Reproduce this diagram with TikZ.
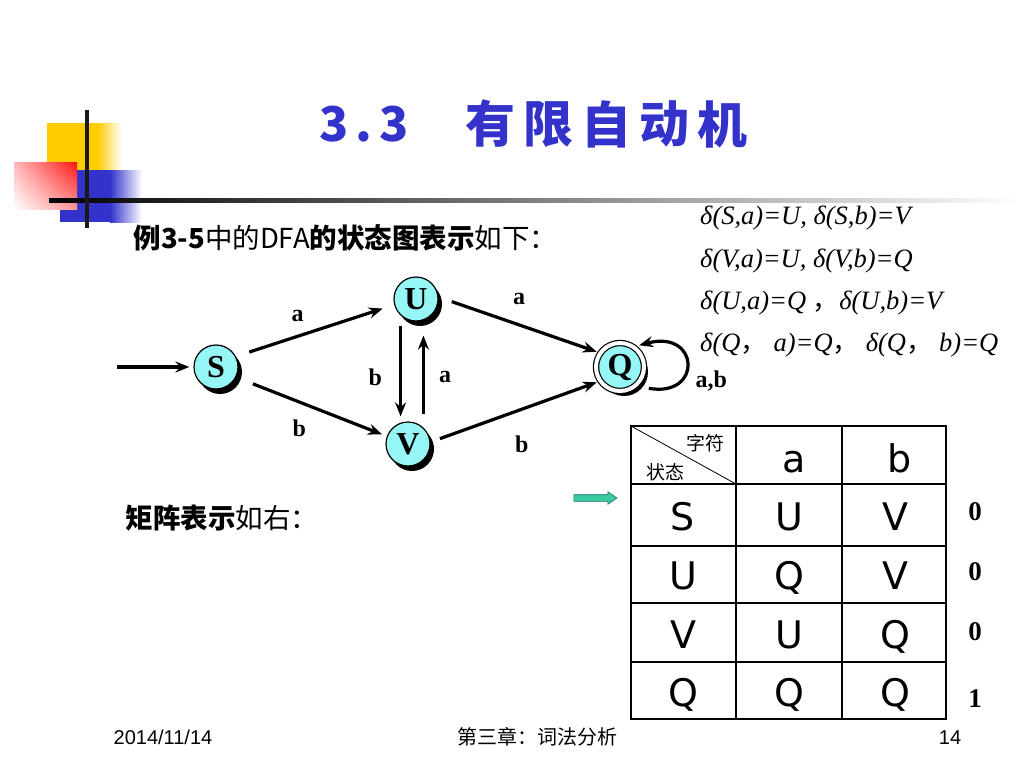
\documentclass[tikz,border=0pt]{standalone}
\usepackage{fontspec}
\setmainfont{Liberation Serif}
\newfontfamily\cjk{Noto Sans CJK SC}
\newfontfamily\tblfont{DejaVu Sans}
\newfontfamily\footfont{Liberation Sans}
\usetikzlibrary{arrows.meta,automata,positioning,shadows,shadings,shapes.arrows}

\definecolor{stcyan}{RGB}{150,245,245}
\definecolor{titleblue}{RGB}{51,51,204}
\definecolor{decoyellow}{RGB}{255,204,0}
\definecolor{decored}{RGB}{255,20,20}
\definecolor{decoblue}{RGB}{51,51,204}
\definecolor{ptrgreen}{RGB}{60,200,160}
\definecolor{ptrdark}{RGB}{20,110,100}
\newcommand{\setfs}[1]{\fontsize{#1}{#1}\selectfont}

\begin{document}
\begin{tikzpicture}[x=1pt,y=1pt,>={Stealth[length=14pt,width=11pt]},
    every state/.style={draw,line width=1.2pt,fill=stcyan,minimum size=44pt,inner sep=0pt,
      font=\bfseries\setfs{32},
      drop shadow={fill=black,opacity=1,shadow xshift=4pt,shadow yshift=-5pt}},
    accepting by double/.append style={double distance=4pt},
    initial text={},initial distance=76pt,
    every initial by arrow/.append style={line width=3.2pt,shorten >=4pt},
    trans/.style={line width=3.2pt},
    lbl/.style={font=\bfseries\setfs{24},inner sep=0pt},
    dlt/.style={anchor=west,inner sep=0pt,font=\itshape\setfs{26.5}},
    cell/.style={anchor=base,font=\tblfont\setfs{38}},
    txt/.style={anchor=west,font=\cjk\setfs{27.5}}]
    \fill[white] (0,0) rectangle (1024,-768);
    \useasboundingbox (0,0) rectangle (1024,-768);

    \fill[decoyellow] (47,-123) rectangle (97,-172);
    \shade[left color=decoyellow,right color=white] (97,-123) rectangle (122,-172);
    \fill[decoblue] (60,-170) rectangle (110,-222);
    \shade[left color=decoblue,right color=white] (110,-170) rectangle (142,-222);
    \shade[upper right=decored,upper left=decored!30,lower right=decored!45,lower left=white]
      (14,-162) rectangle (77,-209);
    \shade[left color=black,right color=white] (49,-198) rectangle (1020,-202.5);
    \fill[black!90] (85,-110) rectangle (89,-228);

    \node[font=\cjk\bfseries\addfontfeature{LetterSpace=15}\setfs{48},text=titleblue] (num) at (364,-124) {3.3};
    \foreach \c [count=\i] in {有,限,自,动,机}
      \node[font=\cjk\bfseries\setfs{50},text=titleblue] (t\i) at (432+58*\i,-124) {\c};

    \node[txt] (ex) at (130,-238) {{\bfseries 例3-5}中的DFA{\bfseries 的状态图表示}如下：};
    \node[txt] (mat) at (122,-518) {{\bfseries 矩阵表示}如右：};

    \node[dlt] (d1) at (700,-218) {δ(S,a)=U, δ(S,b)=V};
    \node[dlt] (d2) at (700,-261) {δ(V,a)=U, δ(V,b)=Q};
    \node[dlt] (d3) at (700,-303) {δ(U,a)=Q {\cjk ，}δ(U,b)=V};
    \node[dlt] (d4) at (700,-345) {δ(Q{\cjk ，} a)=Q{\cjk ，} δ(Q{\cjk ，} b)=Q};

    \node[initial,state] (S) at (216,-367) {S};
    \node[state] (U) [on grid,above right=68pt and 200pt of S] {U};
    \node[state] (V) [on grid,below right=77pt and 192pt of S] {V};
    \node[state,accepting,minimum size=48pt] (Q) [on grid,right=404pt of S] {Q};

    \path[->,trans]
    (S.28) edge[shorten <=14pt,shorten >=12pt] node[lbl,pos=.39,above=13pt] {a} (U.-165)
    (S.-27) edge[shorten <=18pt,shorten >=5pt] node[lbl,pos=.42,below=16pt] {b} (V.160)

    (U.-133) edge[shorten <=10pt,shorten >=5pt] node[lbl,pos=.58,left=17pt] {b} (U.-133 |- V.north)
    (V.47) edge[shorten <=13pt,shorten >=14pt] node[lbl,pos=.48,right=14pt] {a} (V.47 |- U.south)

    (U.5) edge[shorten <=14pt,shorten >=3pt] node[lbl,pos=.5,above=19pt] {a} (Q.145)
    (V.5) edge[shorten <=10pt,shorten >=3pt] node[lbl,pos=.54,below=25pt] {b} (Q.-145)

    (Q.-50) edge[out=-10,in=15,looseness=4.4,shorten <=13pt,shorten >=5pt]
      node[lbl,pos=.28,right=18pt] {a,b} (Q.55)
    ;

    \node[single arrow,draw=ptrdark,fill=ptrgreen,line width=0.6pt,minimum height=43pt,
      inner sep=3pt,single arrow head extend=3pt,single arrow tip angle=70] (ptr) at (593,-498) {};

    \foreach \y in {484,546,603,662}
      \draw[line width=1.2pt] (631,-\y) -- (946,-\y);
    \foreach \x in {736,842}
      \draw[line width=1.2pt] (\x,-426) -- (\x,-719);
    \draw[line width=0.8pt] (631,-426) -- (736,-484);
    \draw[line width=2.5pt] (631,-426) rectangle (946,-719);

    \node[font=\cjk\setfs{19}] (chr) at (705,-443) {字符};
    \node[font=\cjk\setfs{19}] (sta) at (665,-472) {状态};
    \node[cell] (ha) at (794,-472) {a};
    \node[cell] (hb) at (900,-472) {b};
    \foreach \yb/\s/\a/\b/\f/\yf in {530/S/U/V/0/520,589/U/Q/V/0/580,648/V/U/Q/0/640,706/Q/Q/Q/1/707} {
      \node[cell] (r\s) at (683,-\yb) {\s};
      \node[cell] (a\s) at (789,-\yb) {\a};
      \node[cell] (b\s) at (895,-\yb) {\b};
      \node[anchor=base,font=\bfseries\setfs{27}] (f\s) at (975,-\yf) {\f};
    }

    \node[anchor=base,font=\footfont\setfs{20}] (date) at (163,-744) {2014/11/14};
    \node[anchor=base,font=\cjk\setfs{20}] (chap) at (537,-744) {第三章：词法分析};
    \node[anchor=base,font=\footfont\setfs{20}] (pg) at (950,-744) {14};
  \end{tikzpicture}
\end{document}
